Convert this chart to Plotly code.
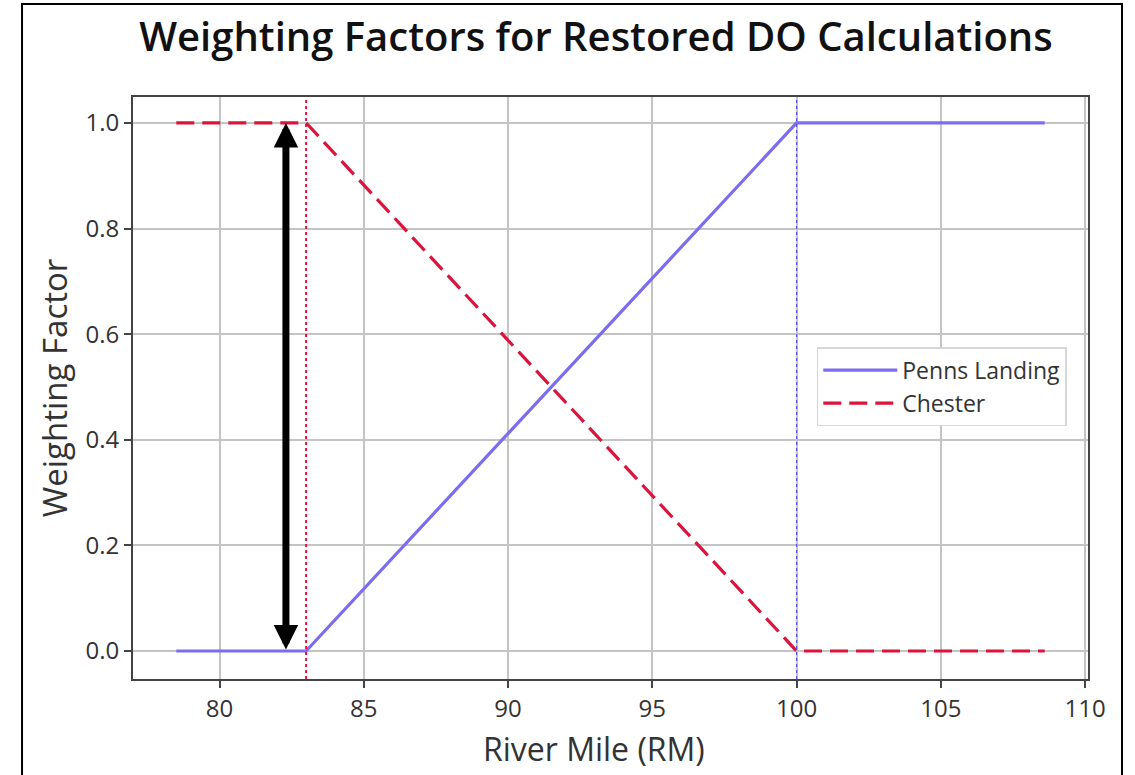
import plotly.graph_objects as go

# Data
river_mile = [78.5, 83.0, 100.0, 108.6]
penns_landing = [0.0, 0.0, 1.0, 1.0]
chester = [1.0, 1.0, 0.0, 0.0]
breakpoint_low = 83.0
breakpoint_high = 100.0
arrow_x = 82.3
arrow_y = [0.0, 1.0]
x_ticks = [80, 85, 90, 95, 100, 105, 110]
y_ticks = [0.0, 0.2, 0.4, 0.6, 0.8, 1.0]

FONT = "Open Sans"
TICK_COLOR = "#333333"

fig = go.Figure()
fig.add_trace(go.Scatter(
    x=river_mile, y=penns_landing, mode="lines", name="Penns Landing",
    line=dict(color="#7B6CF0", width=3.2),
))
fig.add_trace(go.Scatter(
    x=river_mile, y=chester, mode="lines", name="Chester",
    line=dict(color="#DC143C", width=3.2, dash="18px,8px"),
))

# vertical dotted lines
fig.add_shape(type="line", x0=breakpoint_low, x1=breakpoint_low, xref="x",
              y0=0, y1=1, yref="y domain",
              line=dict(color="#DC143C", width=2, dash="dot"), layer="above")
fig.add_shape(type="line", x0=breakpoint_high, x1=breakpoint_high, xref="x",
              y0=0, y1=1, yref="y domain",
              line=dict(color="#5A50E8", width=1.2, dash="dot"), layer="above")

# outer frame
fig.add_shape(type="rect", xref="paper", yref="paper",
              x0=-0.1162, x1=1.0356, y0=-0.18, y1=1.1598,
              line=dict(color="black", width=2), fillcolor="rgba(0,0,0,0)")

# double-headed arrow
fig.add_annotation(
    x=arrow_x, y=arrow_y[1], ax=arrow_x, ay=arrow_y[0],
    xref="x", yref="y", axref="x", ayref="y",
    showarrow=True, arrowhead=2, startarrowhead=2, arrowside="end+start",
    arrowwidth=7, arrowsize=0.7, startarrowsize=0.7, arrowcolor="black", text="",
)

# x-axis label
fig.add_annotation(
    text="River Mile (RM)", xref="paper", yref="paper",
    x=0.483, y=-0.1186, xanchor="center", yanchor="middle", showarrow=False,
    font=dict(family=FONT, size=32, color=TICK_COLOR),
)

fig.update_layout(
    width=1135, height=775,
    margin=dict(l=133, r=47, t=97, b=96),
    paper_bgcolor="white", plot_bgcolor="white",
    title=dict(text="Weighting Factors for Restored DO Calculations",
               x=596 / 1135, xanchor="center", y=1 - 37 / 775, yanchor="middle",
               yref="container",
               font=dict(family=FONT, size=40, weight=600, color="#111111")),
    legend=dict(x=0.716, y=0.57, xanchor="left", yanchor="top",
                bordercolor="#d6d6d6", borderwidth=1.5, bgcolor="white",
                font=dict(family=FONT, size=23, color=TICK_COLOR),
                itemwidth=74, tracegroupgap=5),
    showlegend=True,
)
fig.update_xaxes(
    range=[77.0, 110.1], tickvals=x_ticks, ticktext=[str(v) for v in x_ticks],
    showgrid=True, gridcolor="#c4c4c4", gridwidth=1.5,
    showline=True, linecolor="#444444", linewidth=2, mirror=True,
    ticks="outside", ticklen=7, tickwidth=1.5, tickcolor="#444444",
    tickfont=dict(family=FONT, size=24, color=TICK_COLOR),
    zeroline=False,
)
fig.update_yaxes(
    range=[-0.053, 1.049], tickvals=y_ticks, ticktext=[f"{v:.1f}" for v in y_ticks],
    showgrid=True, gridcolor="#c4c4c4", gridwidth=1.5,
    showline=True, linecolor="#444444", linewidth=2, mirror=True,
    ticks="outside", ticklen=7, tickwidth=1.5, tickcolor="#444444",
    tickfont=dict(family=FONT, size=24, color=TICK_COLOR),
    title=dict(text="Weighting Factor", font=dict(family=FONT, size=33, color=TICK_COLOR), standoff=8),
    zeroline=False,
)

fig.write_html("out.html")
